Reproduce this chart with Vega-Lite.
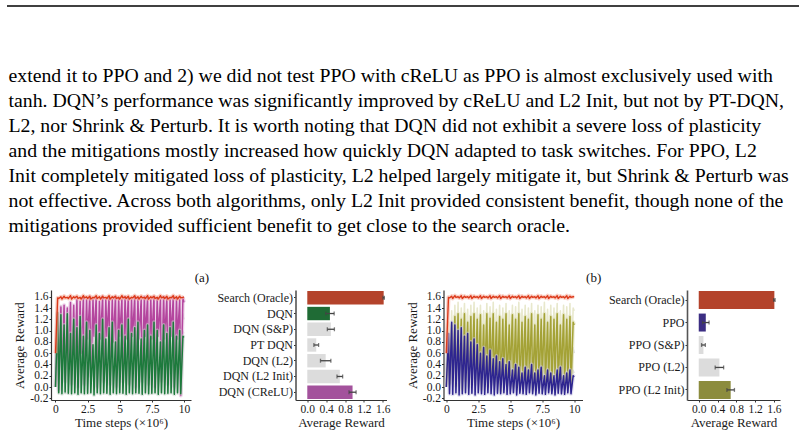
{
  "$schema": "https://vega.github.io/schema/vega-lite/v6.json",
  "background": "white",
  "padding": {"left": 6, "top": 0, "right": 0, "bottom": 0},
  "autosize": {"type": "pad"},
  "datasets": {
    "para": [
      {"line": 1, "text": "extend it to PPO and 2) we did not test PPO with cReLU as PPO is almost exclusively used with"},
      {"line": 2, "text": "tanh. DQN’s performance was significantly improved by cReLU and L2 Init, but not by PT-DQN,"},
      {"line": 3, "text": "L2, nor Shrink & Perturb. It is worth noting that DQN did not exhibit a severe loss of plasticity"},
      {"line": 4, "text": "and the mitigations mostly increased how quickly DQN adapted to task switches. For PPO, L2"},
      {"line": 5, "text": "Init completely mitigated loss of plasticity, L2 helped largely mitigate it, but Shrink & Perturb was"},
      {"line": 6, "text": "not effective. Across both algorithms, only L2 Init provided consistent benefit, though none of the"},
      {"line": 7, "text": "mitigations provided sufficient benefit to get close to the search oracle."}
    ],
    "dqnRuns": [
      {"t": 0, "oracle": 0.6, "l2init": 0, "sp": 0, "crelu": 0, "dqn": 0},
      {"t": 0.17, "oracle": 1.58, "l2init": 1.38, "sp": 1.2, "crelu": 1.3, "dqn": 1.32},
      {"t": 0.25, "oracle": 1.57, "l2init": -0.1, "sp": -0.12, "crelu": -0.05, "dqn": -0.1},
      {"t": 0.42, "oracle": 1.6, "l2init": 1.45, "sp": 1.25, "crelu": 1.42, "dqn": 1.28},
      {"t": 0.5, "oracle": 1.56, "l2init": -0.08, "sp": -0.1, "crelu": 0.3, "dqn": -0.12},
      {"t": 0.67, "oracle": 1.61, "l2init": 1.4, "sp": 1.05, "crelu": 1.45, "dqn": 1.1},
      {"t": 0.75, "oracle": 1.58, "l2init": -0.12, "sp": -0.1, "crelu": 0.1, "dqn": -0.09},
      {"t": 0.92, "oracle": 1.59, "l2init": 1.35, "sp": 1.3, "crelu": 1.4, "dqn": 1.3},
      {"t": 1.0, "oracle": 1.57, "l2init": -0.1, "sp": -0.13, "crelu": 0.45, "dqn": -0.11},
      {"t": 1.17, "oracle": 1.62, "l2init": 1.42, "sp": 1.0, "crelu": 1.5, "dqn": 0.95},
      {"t": 1.25, "oracle": 1.56, "l2init": -0.09, "sp": -0.1, "crelu": 0.05, "dqn": -0.12},
      {"t": 1.42, "oracle": 1.6, "l2init": 1.3, "sp": 1.2, "crelu": 1.45, "dqn": 1.2},
      {"t": 1.5, "oracle": 1.58, "l2init": -0.11, "sp": -0.12, "crelu": 0.5, "dqn": -0.1},
      {"t": 1.67, "oracle": 1.61, "l2init": 1.45, "sp": 1.1, "crelu": 1.55, "dqn": 1.05},
      {"t": 1.75, "oracle": 1.57, "l2init": -0.1, "sp": -0.09, "crelu": 0, "dqn": -0.13},
      {"t": 1.92, "oracle": 1.59, "l2init": 1.38, "sp": 1.25, "crelu": 1.52, "dqn": 1.25},
      {"t": 2.0, "oracle": 1.56, "l2init": -0.12, "sp": -0.11, "crelu": 0.6, "dqn": -0.1},
      {"t": 2.17, "oracle": 1.62, "l2init": 1.4, "sp": 0.95, "crelu": 1.58, "dqn": 0.9},
      {"t": 2.25, "oracle": 1.58, "l2init": -0.08, "sp": -0.1, "crelu": 0.05, "dqn": -0.12},
      {"t": 2.42, "oracle": 1.6, "l2init": 1.35, "sp": 1.15, "crelu": 1.55, "dqn": 1.15},
      {"t": 2.5, "oracle": 1.57, "l2init": -0.1, "sp": -0.13, "crelu": 0.85, "dqn": -0.11},
      {"t": 2.67, "oracle": 1.61, "l2init": 1.3, "sp": 1.05, "crelu": 1.6, "dqn": 1.0},
      {"t": 2.75, "oracle": 1.56, "l2init": -0.11, "sp": -0.1, "crelu": 0.2, "dqn": -0.1},
      {"t": 2.92, "oracle": 1.59, "l2init": 1.42, "sp": 0.85, "crelu": 1.55, "dqn": 0.75},
      {"t": 3.0, "oracle": 1.58, "l2init": -0.09, "sp": -0.12, "crelu": 0.9, "dqn": -0.14},
      {"t": 3.17, "oracle": 1.62, "l2init": 1.38, "sp": 1.2, "crelu": 1.58, "dqn": 1.1},
      {"t": 3.25, "oracle": 1.57, "l2init": -0.12, "sp": -0.1, "crelu": 0, "dqn": -0.1},
      {"t": 3.42, "oracle": 1.6, "l2init": 1.3, "sp": 1.0, "crelu": 1.52, "dqn": 0.95},
      {"t": 3.5, "oracle": 1.56, "l2init": -0.1, "sp": -0.11, "crelu": 0.85, "dqn": -0.12},
      {"t": 3.67, "oracle": 1.61, "l2init": 1.45, "sp": 1.25, "crelu": 1.6, "dqn": 1.2},
      {"t": 3.75, "oracle": 1.58, "l2init": -0.08, "sp": -0.13, "crelu": 0.1, "dqn": -0.1},
      {"t": 3.92, "oracle": 1.59, "l2init": 1.35, "sp": 0.95, "crelu": 1.55, "dqn": 0.85},
      {"t": 4.0, "oracle": 1.57, "l2init": -0.11, "sp": -0.1, "crelu": 0.9, "dqn": -0.11},
      {"t": 4.17, "oracle": 1.62, "l2init": 1.4, "sp": 1.1, "crelu": 1.58, "dqn": 1.05},
      {"t": 4.25, "oracle": 1.56, "l2init": -0.1, "sp": -0.12, "crelu": 0.05, "dqn": -0.13},
      {"t": 4.42, "oracle": 1.6, "l2init": 1.32, "sp": 1.2, "crelu": 1.55, "dqn": 1.15},
      {"t": 4.5, "oracle": 1.58, "l2init": -0.12, "sp": -0.1, "crelu": 0.8, "dqn": -0.1},
      {"t": 4.67, "oracle": 1.61, "l2init": 1.42, "sp": 0.9, "crelu": 1.6, "dqn": 0.8},
      {"t": 4.75, "oracle": 1.57, "l2init": -0.09, "sp": -0.11, "crelu": 0, "dqn": -0.12},
      {"t": 4.92, "oracle": 1.59, "l2init": 1.38, "sp": 1.05, "crelu": 1.57, "dqn": 1.0},
      {"t": 5.0, "oracle": 1.56, "l2init": -0.1, "sp": -0.13, "crelu": 0.9, "dqn": -0.1},
      {"t": 5.17, "oracle": 1.62, "l2init": 1.3, "sp": 1.15, "crelu": 1.55, "dqn": 1.1},
      {"t": 5.25, "oracle": 1.58, "l2init": -0.11, "sp": -0.1, "crelu": 0.1, "dqn": -0.11},
      {"t": 5.42, "oracle": 1.6, "l2init": 1.45, "sp": 1.0, "crelu": 1.6, "dqn": 0.9},
      {"t": 5.5, "oracle": 1.57, "l2init": -0.08, "sp": -0.12, "crelu": 0.85, "dqn": -0.13},
      {"t": 5.67, "oracle": 1.61, "l2init": 1.4, "sp": 1.25, "crelu": 1.58, "dqn": 1.2},
      {"t": 5.75, "oracle": 1.56, "l2init": -0.12, "sp": -0.1, "crelu": 0.05, "dqn": -0.1},
      {"t": 5.92, "oracle": 1.59, "l2init": 1.35, "sp": 1.0, "crelu": 1.55, "dqn": 0.95},
      {"t": 6.0, "oracle": 1.58, "l2init": -0.1, "sp": -0.11, "crelu": 0.9, "dqn": -0.12},
      {"t": 6.17, "oracle": 1.62, "l2init": 1.42, "sp": 1.1, "crelu": 1.6, "dqn": 1.05},
      {"t": 6.25, "oracle": 1.57, "l2init": -0.09, "sp": -0.13, "crelu": 0, "dqn": -0.1},
      {"t": 6.42, "oracle": 1.6, "l2init": 1.3, "sp": 1.2, "crelu": 1.57, "dqn": 1.15},
      {"t": 6.5, "oracle": 1.56, "l2init": -0.11, "sp": -0.1, "crelu": 0.85, "dqn": -0.11},
      {"t": 6.67, "oracle": 1.61, "l2init": 1.38, "sp": 0.95, "crelu": 1.55, "dqn": 0.85},
      {"t": 6.75, "oracle": 1.58, "l2init": -0.1, "sp": -0.12, "crelu": 0.1, "dqn": -0.13},
      {"t": 6.92, "oracle": 1.59, "l2init": 1.45, "sp": 1.05, "crelu": 1.6, "dqn": 1.0},
      {"t": 7.0, "oracle": 1.57, "l2init": -0.12, "sp": -0.1, "crelu": 0.9, "dqn": -0.1},
      {"t": 7.17, "oracle": 1.62, "l2init": 1.35, "sp": 1.15, "crelu": 1.58, "dqn": 1.1},
      {"t": 7.25, "oracle": 1.56, "l2init": -0.08, "sp": -0.11, "crelu": 0.05, "dqn": -0.12},
      {"t": 7.42, "oracle": 1.6, "l2init": 1.4, "sp": 1.0, "crelu": 1.55, "dqn": 0.9},
      {"t": 7.5, "oracle": 1.58, "l2init": -0.1, "sp": -0.13, "crelu": 0.85, "dqn": -0.11},
      {"t": 7.67, "oracle": 1.61, "l2init": 1.32, "sp": 1.2, "crelu": 1.6, "dqn": 1.15},
      {"t": 7.75, "oracle": 1.57, "l2init": -0.11, "sp": -0.1, "crelu": 0, "dqn": -0.1},
      {"t": 7.92, "oracle": 1.59, "l2init": 1.42, "sp": 1.05, "crelu": 1.57, "dqn": 1.0},
      {"t": 8.0, "oracle": 1.56, "l2init": -0.09, "sp": -0.12, "crelu": 0.9, "dqn": -0.13},
      {"t": 8.17, "oracle": 1.62, "l2init": 1.38, "sp": 0.9, "crelu": 1.55, "dqn": 0.8},
      {"t": 8.25, "oracle": 1.58, "l2init": -0.12, "sp": -0.1, "crelu": 0.1, "dqn": -0.1},
      {"t": 8.42, "oracle": 1.6, "l2init": 1.3, "sp": 1.15, "crelu": 1.6, "dqn": 1.1},
      {"t": 8.5, "oracle": 1.57, "l2init": -0.1, "sp": -0.11, "crelu": 0.85, "dqn": -0.12},
      {"t": 8.67, "oracle": 1.61, "l2init": 1.45, "sp": 1.0, "crelu": 1.58, "dqn": 0.95},
      {"t": 8.75, "oracle": 1.56, "l2init": -0.08, "sp": -0.13, "crelu": 0.05, "dqn": -0.11},
      {"t": 8.92, "oracle": 1.59, "l2init": 1.4, "sp": 1.1, "crelu": 1.55, "dqn": 1.05},
      {"t": 9.0, "oracle": 1.58, "l2init": -0.11, "sp": -0.1, "crelu": 0.9, "dqn": -0.1},
      {"t": 9.17, "oracle": 1.62, "l2init": 1.35, "sp": 1.2, "crelu": 1.6, "dqn": 1.15},
      {"t": 9.25, "oracle": 1.57, "l2init": -0.1, "sp": -0.12, "crelu": 0, "dqn": -0.13},
      {"t": 9.42, "oracle": 1.6, "l2init": 1.42, "sp": 0.95, "crelu": 1.57, "dqn": 0.9},
      {"t": 9.5, "oracle": 1.56, "l2init": -0.12, "sp": -0.1, "crelu": 0.85, "dqn": -0.1},
      {"t": 9.67, "oracle": 1.61, "l2init": 1.38, "sp": 1.05, "crelu": 1.55, "dqn": 1.0},
      {"t": 9.75, "oracle": 1.58, "l2init": -0.09, "sp": -0.11, "crelu": -0.15, "dqn": -0.12},
      {"t": 9.92, "oracle": 1.59, "l2init": 1.3, "sp": 1.0, "crelu": 1.58, "dqn": 0.9},
      {"t": 10.0, "oracle": 1.6, "l2init": 1.2, "sp": 0.95, "crelu": 1.5, "dqn": 0.88}
    ],
    "ppoRuns": [
      {"t": 0, "oracle": 0.6, "l2": 0, "sp": 0, "hi": 0.1, "l2init": 0, "ppo": 0},
      {"t": 0.17, "oracle": 1.59, "l2": 0.85, "sp": 0.8, "hi": 1.15, "l2init": 0.95, "ppo": 0.95},
      {"t": 0.25, "oracle": 1.58, "l2": -0.1, "sp": -0.12, "hi": 0.15, "l2init": 0.05, "ppo": -0.12},
      {"t": 0.42, "oracle": 1.61, "l2": 1.0, "sp": 1.05, "hi": 1.35, "l2init": 1.1, "ppo": 1.15},
      {"t": 0.5, "oracle": 1.57, "l2": -0.12, "sp": -0.1, "hi": 0.25, "l2init": 0.1, "ppo": -0.13},
      {"t": 0.67, "oracle": 1.62, "l2": 1.1, "sp": 0.95, "hi": 1.45, "l2init": 1.25, "ppo": 1.1},
      {"t": 0.75, "oracle": 1.59, "l2": -0.09, "sp": -0.13, "hi": 0.2, "l2init": 0.02, "ppo": -0.1},
      {"t": 0.92, "oracle": 1.6, "l2": 0.95, "sp": 0.9, "hi": 1.5, "l2init": 1.3, "ppo": 1.0},
      {"t": 1.0, "oracle": 1.58, "l2": -0.11, "sp": -0.1, "hi": 0.3, "l2init": 0.15, "ppo": -0.14},
      {"t": 1.17, "oracle": 1.62, "l2": 1.05, "sp": 0.85, "hi": 1.4, "l2init": 1.2, "ppo": 1.05},
      {"t": 1.25, "oracle": 1.57, "l2": -0.1, "sp": -0.12, "hi": 0.15, "l2init": -0.05, "ppo": -0.12},
      {"t": 1.42, "oracle": 1.61, "l2": 0.9, "sp": 0.8, "hi": 1.48, "l2init": 1.3, "ppo": 0.9},
      {"t": 1.5, "oracle": 1.59, "l2": -0.12, "sp": -0.11, "hi": 0.3, "l2init": 0.1, "ppo": -0.1},
      {"t": 1.67, "oracle": 1.6, "l2": 1.0, "sp": 0.75, "hi": 1.38, "l2init": 1.15, "ppo": 0.95},
      {"t": 1.75, "oracle": 1.58, "l2": -0.1, "sp": -0.13, "hi": 0.2, "l2init": 0, "ppo": -0.13},
      {"t": 1.92, "oracle": 1.62, "l2": 0.85, "sp": 0.7, "hi": 1.45, "l2init": 1.25, "ppo": 0.8},
      {"t": 2.0, "oracle": 1.57, "l2": -0.11, "sp": -0.1, "hi": 0.35, "l2init": 0.2, "ppo": -0.11},
      {"t": 2.17, "oracle": 1.61, "l2": 0.95, "sp": 0.65, "hi": 1.5, "l2init": 1.3, "ppo": 0.85},
      {"t": 2.25, "oracle": 1.59, "l2": -0.09, "sp": -0.12, "hi": 0.2, "l2init": 0.05, "ppo": -0.14},
      {"t": 2.42, "oracle": 1.6, "l2": 0.8, "sp": 0.6, "hi": 1.4, "l2init": 1.2, "ppo": 0.75},
      {"t": 2.5, "oracle": 1.58, "l2": -0.12, "sp": -0.1, "hi": 0.3, "l2init": 0.12, "ppo": -0.1},
      {"t": 2.67, "oracle": 1.62, "l2": 0.9, "sp": 0.55, "hi": 1.45, "l2init": 1.28, "ppo": 0.6},
      {"t": 2.75, "oracle": 1.57, "l2": -0.1, "sp": -0.11, "hi": 0.15, "l2init": -0.05, "ppo": -0.12},
      {"t": 2.92, "oracle": 1.61, "l2": 0.75, "sp": 0.6, "hi": 1.35, "l2init": 1.1, "ppo": 0.7},
      {"t": 3.0, "oracle": 1.59, "l2": -0.11, "sp": -0.13, "hi": 0.3, "l2init": 0.15, "ppo": -0.13},
      {"t": 3.17, "oracle": 1.6, "l2": 0.85, "sp": 0.5, "hi": 1.48, "l2init": 1.3, "ppo": 0.55},
      {"t": 3.25, "oracle": 1.58, "l2": -0.1, "sp": -0.1, "hi": 0.2, "l2init": 0, "ppo": -0.1},
      {"t": 3.42, "oracle": 1.62, "l2": 0.7, "sp": 0.55, "hi": 1.42, "l2init": 1.22, "ppo": 0.65},
      {"t": 3.5, "oracle": 1.57, "l2": -0.12, "sp": -0.12, "hi": 0.35, "l2init": 0.18, "ppo": -0.12},
      {"t": 3.67, "oracle": 1.61, "l2": 0.8, "sp": 0.45, "hi": 1.5, "l2init": 1.3, "ppo": 0.5},
      {"t": 3.75, "oracle": 1.59, "l2": -0.09, "sp": -0.11, "hi": 0.2, "l2init": 0.05, "ppo": -0.14},
      {"t": 3.92, "oracle": 1.6, "l2": 0.65, "sp": 0.5, "hi": 1.38, "l2init": 1.15, "ppo": 0.55},
      {"t": 4.0, "oracle": 1.58, "l2": -0.11, "sp": -0.13, "hi": 0.3, "l2init": 0.1, "ppo": -0.11},
      {"t": 4.17, "oracle": 1.62, "l2": 0.75, "sp": 0.4, "hi": 1.45, "l2init": 1.25, "ppo": 0.45},
      {"t": 4.25, "oracle": 1.57, "l2": -0.1, "sp": -0.1, "hi": 0.15, "l2init": -0.08, "ppo": -0.12},
      {"t": 4.42, "oracle": 1.61, "l2": 0.7, "sp": 0.45, "hi": 1.4, "l2init": 1.2, "ppo": 0.5},
      {"t": 4.5, "oracle": 1.59, "l2": -0.12, "sp": -0.12, "hi": 0.3, "l2init": 0.15, "ppo": -0.1},
      {"t": 4.67, "oracle": 1.6, "l2": 0.8, "sp": 0.35, "hi": 1.48, "l2init": 1.3, "ppo": 0.4},
      {"t": 4.75, "oracle": 1.58, "l2": -0.1, "sp": -0.11, "hi": 0.2, "l2init": 0.05, "ppo": -0.13},
      {"t": 4.92, "oracle": 1.62, "l2": 0.65, "sp": 0.4, "hi": 1.35, "l2init": 1.1, "ppo": 0.45},
      {"t": 5.0, "oracle": 1.57, "l2": -0.11, "sp": -0.13, "hi": 0.35, "l2init": 0.2, "ppo": -0.12},
      {"t": 5.17, "oracle": 1.61, "l2": 0.75, "sp": 0.3, "hi": 1.45, "l2init": 1.28, "ppo": 0.3},
      {"t": 5.25, "oracle": 1.59, "l2": -0.09, "sp": -0.1, "hi": 0.2, "l2init": 0, "ppo": -0.1},
      {"t": 5.42, "oracle": 1.6, "l2": 0.7, "sp": 0.35, "hi": 1.42, "l2init": 1.2, "ppo": 0.4},
      {"t": 5.5, "oracle": 1.58, "l2": -0.12, "sp": -0.12, "hi": 0.3, "l2init": 0.12, "ppo": -0.14},
      {"t": 5.67, "oracle": 1.62, "l2": 0.6, "sp": 0.3, "hi": 1.5, "l2init": 1.3, "ppo": 0.35},
      {"t": 5.75, "oracle": 1.57, "l2": -0.1, "sp": -0.11, "hi": 0.15, "l2init": -0.05, "ppo": -0.11},
      {"t": 5.92, "oracle": 1.61, "l2": 0.75, "sp": 0.25, "hi": 1.38, "l2init": 1.15, "ppo": 0.25},
      {"t": 6.0, "oracle": 1.59, "l2": -0.11, "sp": -0.13, "hi": 0.3, "l2init": 0.15, "ppo": -0.12},
      {"t": 6.17, "oracle": 1.6, "l2": 0.65, "sp": 0.3, "hi": 1.45, "l2init": 1.25, "ppo": 0.35},
      {"t": 6.25, "oracle": 1.58, "l2": -0.1, "sp": -0.1, "hi": 0.2, "l2init": 0.05, "ppo": -0.13},
      {"t": 6.42, "oracle": 1.62, "l2": 0.7, "sp": 0.35, "hi": 1.4, "l2init": 1.2, "ppo": 0.3},
      {"t": 6.5, "oracle": 1.57, "l2": -0.12, "sp": -0.12, "hi": 0.35, "l2init": 0.18, "ppo": -0.1},
      {"t": 6.67, "oracle": 1.61, "l2": 0.6, "sp": 0.3, "hi": 1.48, "l2init": 1.3, "ppo": 0.4},
      {"t": 6.75, "oracle": 1.59, "l2": -0.09, "sp": -0.11, "hi": 0.2, "l2init": -0.05, "ppo": -0.12},
      {"t": 6.92, "oracle": 1.6, "l2": 0.7, "sp": 0.25, "hi": 1.35, "l2init": 1.1, "ppo": 0.25},
      {"t": 7.0, "oracle": 1.58, "l2": -0.11, "sp": -0.13, "hi": 0.3, "l2init": 0.1, "ppo": -0.14},
      {"t": 7.17, "oracle": 1.62, "l2": 0.65, "sp": 0.3, "hi": 1.45, "l2init": 1.28, "ppo": 0.3},
      {"t": 7.25, "oracle": 1.57, "l2": -0.1, "sp": -0.1, "hi": 0.15, "l2init": 0, "ppo": -0.11},
      {"t": 7.42, "oracle": 1.61, "l2": 0.6, "sp": 0.35, "hi": 1.42, "l2init": 1.2, "ppo": 0.35},
      {"t": 7.5, "oracle": 1.59, "l2": -0.12, "sp": -0.12, "hi": 0.35, "l2init": 0.15, "ppo": -0.12},
      {"t": 7.67, "oracle": 1.6, "l2": 0.7, "sp": 0.25, "hi": 1.5, "l2init": 1.3, "ppo": 0.2},
      {"t": 7.75, "oracle": 1.58, "l2": -0.1, "sp": -0.11, "hi": 0.2, "l2init": 0.05, "ppo": -0.13},
      {"t": 7.92, "oracle": 1.62, "l2": 0.65, "sp": 0.3, "hi": 1.38, "l2init": 1.15, "ppo": 0.3},
      {"t": 8.0, "oracle": 1.57, "l2": -0.11, "sp": -0.13, "hi": 0.3, "l2init": 0.12, "ppo": -0.1},
      {"t": 8.17, "oracle": 1.61, "l2": 0.6, "sp": 0.25, "hi": 1.45, "l2init": 1.25, "ppo": 0.25},
      {"t": 8.25, "oracle": 1.59, "l2": -0.09, "sp": -0.1, "hi": 0.2, "l2init": -0.05, "ppo": -0.12},
      {"t": 8.42, "oracle": 1.6, "l2": 0.7, "sp": 0.3, "hi": 1.4, "l2init": 1.2, "ppo": 0.2},
      {"t": 8.5, "oracle": 1.58, "l2": -0.12, "sp": -0.12, "hi": 0.35, "l2init": 0.2, "ppo": -0.14},
      {"t": 8.67, "oracle": 1.62, "l2": 0.65, "sp": 0.25, "hi": 1.48, "l2init": 1.3, "ppo": 0.3},
      {"t": 8.75, "oracle": 1.57, "l2": -0.1, "sp": -0.11, "hi": 0.15, "l2init": 0, "ppo": -0.11},
      {"t": 8.92, "oracle": 1.61, "l2": 0.6, "sp": 0.3, "hi": 1.35, "l2init": 1.1, "ppo": 0.35},
      {"t": 9.0, "oracle": 1.59, "l2": -0.11, "sp": -0.13, "hi": 0.3, "l2init": 0.15, "ppo": -0.12},
      {"t": 9.17, "oracle": 1.6, "l2": 0.7, "sp": 0.25, "hi": 1.45, "l2init": 1.28, "ppo": 0.2},
      {"t": 9.25, "oracle": 1.58, "l2": -0.1, "sp": -0.1, "hi": 0.2, "l2init": 0.05, "ppo": -0.13},
      {"t": 9.42, "oracle": 1.62, "l2": 0.65, "sp": 0.3, "hi": 1.42, "l2init": 1.2, "ppo": 0.25},
      {"t": 9.5, "oracle": 1.57, "l2": -0.12, "sp": -0.12, "hi": 0.35, "l2init": 0.12, "ppo": -0.1},
      {"t": 9.67, "oracle": 1.61, "l2": 0.6, "sp": 0.25, "hi": 1.48, "l2init": 1.25, "ppo": 0.3},
      {"t": 9.75, "oracle": 1.59, "l2": -0.09, "sp": -0.11, "hi": 0.2, "l2init": 0, "ppo": -0.12},
      {"t": 9.92, "oracle": 1.6, "l2": 0.7, "sp": 0.3, "hi": 1.4, "l2init": 1.15, "ppo": 0.2},
      {"t": 10.0, "oracle": 1.6, "l2": 0.6, "sp": 0.25, "hi": 1.35, "l2init": 1.1, "ppo": 0.18}
    ],
    "dqnBars": [
      {"method": "Search (Oracle)", "mean": 1.62, "err": 0.015},
      {"method": "DQN", "mean": 0.48, "err": 0.09},
      {"method": "DQN (S&P)", "mean": 0.5, "err": 0.075},
      {"method": "PT DQN", "mean": 0.19, "err": 0.05},
      {"method": "DQN (L2)", "mean": 0.39, "err": 0.11},
      {"method": "DQN (L2 Init)", "mean": 0.69, "err": 0.06},
      {"method": "DQN (CReLU)", "mean": 0.96, "err": 0.075}
    ],
    "ppoBars": [
      {"method": "Search (Oracle)", "mean": 1.61, "err": 0.015},
      {"method": "PPO", "mean": 0.15, "err": 0.07},
      {"method": "PPO (S&P)", "mean": 0.1, "err": 0.04},
      {"method": "PPO (L2)", "mean": 0.44, "err": 0.09},
      {"method": "PPO (L2 Init)", "mean": 0.68, "err": 0.08}
    ]
  },
  "spacing": 22,
  "vconcat": [
    {
      "width": 748,
      "height": 250,
      "layer": [
        {
          "data": {"values": [{}]},
          "mark": {"type": "rule", "color": "#000000", "strokeWidth": 1.5},
          "encoding": {
            "x": {"datum": 0, "type": "quantitative", "scale": {"domain": [0.05556, 1], "nice": false, "zero": false}, "axis": null},
            "x2": {"datum": 1},
            "y": {"datum": -1.8, "type": "quantitative", "scale": {"domain": [-2.04, 7.96], "nice": false, "zero": false, "reverse": true}, "axis": null}
          }
        },
        {
          "data": {"name": "para"},
          "mark": {"type": "text", "align": "left", "baseline": "middle", "font": "Liberation Serif", "fontSize": 19.8, "color": "#000000", "dx": 1.5},
          "encoding": {
            "x": {"datum": 0, "type": "quantitative"},
            "y": {"field": "line", "type": "quantitative"},
            "text": {"field": "text"}
          }
        }
      ]
    },
    {
      "spacing": 15.5,
      "resolve": {"scale": {"color": "independent", "x": "independent", "y": "independent"}},
      "hconcat": [
        {
          "title": {"text": "(a)", "anchor": "middle", "offset": 5},
          "spacing": 25.5,
          "resolve": {"scale": {"color": "independent", "x": "independent", "y": "independent"}},
          "hconcat": [
            {
              "width": 140,
              "height": 110,
              "data": {"name": "dqnRuns"},
              "transform": [{"fold": ["l2init", "sp", "crelu", "dqn", "oracle"], "as": ["series", "r"]}],
              "encoding": {
                "x": {"field": "t", "type": "quantitative", "scale": {"domain": [-0.35, 10.55], "nice": false, "zero": false},
                      "axis": {"values": [0, 2.5, 5, 7.5, 10], "labelExpr": "'' + datum.value", "labelOverlap": false, "title": "Time steps (×10⁶)", "titlePadding": 2}},
                "y": {"field": "r", "type": "quantitative", "scale": {"domain": [-0.23, 1.72], "nice": false, "zero": false},
                      "axis": {"values": [-0.2, 0, 0.2, 0.4, 0.6, 0.8, 1, 1.2, 1.4, 1.6], "format": ".1f", "labelExpr": "replace(datum.label, '−', '-')", "labelOverlap": false, "title": "Average Reward"}}
              },
              "layer": [
                {"transform": [{"filter": {"field": "series", "equal": "l2init"}}], "mark": {"type": "line", "color": "#d2d2d2", "strokeWidth": 1.3, "strokeJoin": "round", "clip": true}},
                {"transform": [{"filter": {"field": "series", "equal": "sp"}}], "mark": {"type": "line", "color": "#dadada", "strokeWidth": 1.3, "strokeJoin": "round", "clip": true}},
                {"transform": [{"filter": {"field": "series", "equal": "crelu"}}], "mark": {"type": "line", "color": "#e2b0da", "strokeWidth": 4, "opacity": 0.55, "strokeJoin": "round", "clip": true}},
                {"transform": [{"filter": {"field": "series", "equal": "crelu"}}], "mark": {"type": "line", "color": "#b4469e", "strokeWidth": 1.5, "strokeJoin": "round", "clip": true}},
                {"transform": [{"filter": {"field": "series", "equal": "dqn"}}], "mark": {"type": "line", "color": "#c5d3c9", "strokeWidth": 4, "opacity": 0.5, "strokeJoin": "round", "clip": true}},
                {"transform": [{"filter": {"field": "series", "equal": "dqn"}}], "mark": {"type": "line", "color": "#1d7a3c", "strokeWidth": 1.5, "strokeJoin": "round", "clip": true}},
                {"transform": [{"filter": {"field": "series", "equal": "oracle"}}], "mark": {"type": "line", "color": "#f5b0a0", "strokeWidth": 4, "opacity": 0.6, "strokeJoin": "round", "clip": true}},
                {"transform": [{"filter": {"field": "series", "equal": "oracle"}}], "mark": {"type": "line", "color": "#dc3a1b", "strokeWidth": 1.4, "strokeJoin": "round", "clip": true}}
              ]
            },
            {
              "width": 91,
              "height": 110,
              "data": {"name": "dqnBars"},
              "encoding": {
                "y": {"field": "method", "type": "nominal", "sort": null, "scale": {"paddingInner": 0.15, "paddingOuter": 0.07},
                      "axis": {"title": null, "labelFontSize": 12, "domainColor": "#555555", "domainWidth": 1.6, "labelPadding": 1, "tickSize": 2}}
              },
              "layer": [
                {
                  "mark": {"type": "bar"},
                  "encoding": {
                    "x": {"field": "mean", "type": "quantitative", "scale": {"domain": [-0.25, 1.68], "nice": false, "zero": false},
                          "axis": {"values": [0, 0.4, 0.8, 1.2, 1.6], "format": ".1f", "labelOverlap": false, "title": "Average Reward", "titlePadding": 2}},
                    "x2": {"datum": 0},
                    "color": {"field": "method", "type": "nominal", "legend": null,
                              "scale": {"domain": ["Search (Oracle)", "DQN", "DQN (S&P)", "PT DQN", "DQN (L2)", "DQN (L2 Init)", "DQN (CReLU)"],
                                        "range": ["#b4432b", "#1f6b35", "#dcdcdc", "#dcdcdc", "#dcdcdc", "#dcdcdc", "#a3529c"]}}
                  }
                },
                {
                  "mark": {"type": "errorbar", "ticks": {"size": 4}, "color": "#444444", "thickness": 1.3},
                  "encoding": {
                    "x": {"field": "mean", "type": "quantitative", "title": "Average Reward",
                          "axis": {"values": [0, 0.4, 0.8, 1.2, 1.6], "format": ".1f", "labelOverlap": false, "title": "Average Reward", "titlePadding": 2}},
                    "xError": {"field": "err"}
                  }
                }
              ]
            }
          ]
        },
        {
          "title": {"text": "(b)", "anchor": "middle", "offset": 5},
          "spacing": 25.5,
          "resolve": {"scale": {"color": "independent", "x": "independent", "y": "independent"}},
          "hconcat": [
            {
              "width": 139,
              "height": 110,
              "data": {"name": "ppoRuns"},
              "transform": [{"fold": ["l2", "sp", "hi", "l2init", "ppo", "oracle"], "as": ["series", "r"]}],
              "encoding": {
                "x": {"field": "t", "type": "quantitative", "scale": {"domain": [-0.22, 10.65], "nice": false, "zero": false},
                      "axis": {"values": [0, 2.5, 5, 7.5, 10], "labelExpr": "'' + datum.value", "labelOverlap": false, "title": "Time steps (×10⁶)", "titlePadding": 2}},
                "y": {"field": "r", "type": "quantitative", "scale": {"domain": [-0.23, 1.72], "nice": false, "zero": false},
                      "axis": {"values": [-0.2, 0, 0.2, 0.4, 0.6, 0.8, 1, 1.2, 1.4, 1.6], "format": ".1f", "labelExpr": "replace(datum.label, '−', '-')", "labelOverlap": false, "title": "Average Reward"}}
              },
              "layer": [
                {"transform": [{"filter": {"field": "series", "equal": "l2"}}], "mark": {"type": "line", "color": "#d4d4d4", "strokeWidth": 1.3, "strokeJoin": "round", "clip": true}},
                {"transform": [{"filter": {"field": "series", "equal": "sp"}}], "mark": {"type": "line", "color": "#dcdcdc", "strokeWidth": 1.3, "strokeJoin": "round", "clip": true}},
                {"transform": [{"filter": {"field": "series", "equal": "hi"}}], "mark": {"type": "line", "color": "#e8e8cc", "strokeWidth": 1.6, "strokeJoin": "round", "clip": true}},
                {"transform": [{"filter": {"field": "series", "equal": "l2init"}}], "mark": {"type": "line", "color": "#dedeb4", "strokeWidth": 4, "opacity": 0.55, "strokeJoin": "round", "clip": true}},
                {"transform": [{"filter": {"field": "series", "equal": "l2init"}}], "mark": {"type": "line", "color": "#a4a236", "strokeWidth": 1.5, "strokeJoin": "round", "clip": true}},
                {"transform": [{"filter": {"field": "series", "equal": "ppo"}}], "mark": {"type": "line", "color": "#c9c5e6", "strokeWidth": 4, "opacity": 0.5, "strokeJoin": "round", "clip": true}},
                {"transform": [{"filter": {"field": "series", "equal": "ppo"}}], "mark": {"type": "line", "color": "#2e2590", "strokeWidth": 1.5, "strokeJoin": "round", "clip": true}},
                {"transform": [{"filter": {"field": "series", "equal": "oracle"}}], "mark": {"type": "line", "color": "#f5b0a0", "strokeWidth": 4, "opacity": 0.6, "strokeJoin": "round", "clip": true}},
                {"transform": [{"filter": {"field": "series", "equal": "oracle"}}], "mark": {"type": "line", "color": "#dc3a1b", "strokeWidth": 1.4, "strokeJoin": "round", "clip": true}}
              ]
            },
            {
              "width": 93,
              "height": 110,
              "data": {"name": "ppoBars"},
              "encoding": {
                "y": {"field": "method", "type": "nominal", "sort": null, "scale": {"paddingInner": 0.2, "paddingOuter": 0.05},
                      "axis": {"title": null, "labelFontSize": 12, "domainColor": "#555555", "domainWidth": 1.6, "labelPadding": 1, "tickSize": 2}}
              },
              "layer": [
                {
                  "mark": {"type": "bar"},
                  "encoding": {
                    "x": {"field": "mean", "type": "quantitative", "scale": {"domain": [-0.25, 1.73], "nice": false, "zero": false},
                          "axis": {"values": [0, 0.4, 0.8, 1.2, 1.6], "format": ".1f", "labelOverlap": false, "title": "Average Reward", "titlePadding": 2}},
                    "x2": {"datum": 0},
                    "color": {"field": "method", "type": "nominal", "legend": null,
                              "scale": {"domain": ["Search (Oracle)", "PPO", "PPO (S&P)", "PPO (L2)", "PPO (L2 Init)"],
                                        "range": ["#b4432b", "#3c2e83", "#dcdcdc", "#dcdcdc", "#8c8c3e"]}}
                  }
                },
                {
                  "mark": {"type": "errorbar", "ticks": {"size": 4}, "color": "#444444", "thickness": 1.3},
                  "encoding": {
                    "x": {"field": "mean", "type": "quantitative", "title": "Average Reward",
                          "axis": {"values": [0, 0.4, 0.8, 1.2, 1.6], "format": ".1f", "labelOverlap": false, "title": "Average Reward", "titlePadding": 2}},
                    "xError": {"field": "err"}
                  }
                }
              ]
            }
          ]
        }
      ]
    }
  ],
  "config": {
    "view": {"stroke": null},
    "font": "Liberation Serif",
    "title": {"font": "Liberation Serif", "fontSize": 13, "fontWeight": "normal", "color": "#111111"},
    "axis": {
      "grid": false,
      "labelOverlap": false,
      "labelFont": "Liberation Serif",
      "titleFont": "Liberation Serif",
      "labelFontSize": 11.5,
      "titleFontSize": 13,
      "titleFontWeight": "normal",
      "labelColor": "#1a1a1a",
      "titleColor": "#1a1a1a",
      "domainColor": "#333333",
      "domainWidth": 1.2,
      "tickColor": "#333333",
      "tickSize": 2,
      "labelPadding": 1,
      "titlePadding": 3
    }
  }
}
